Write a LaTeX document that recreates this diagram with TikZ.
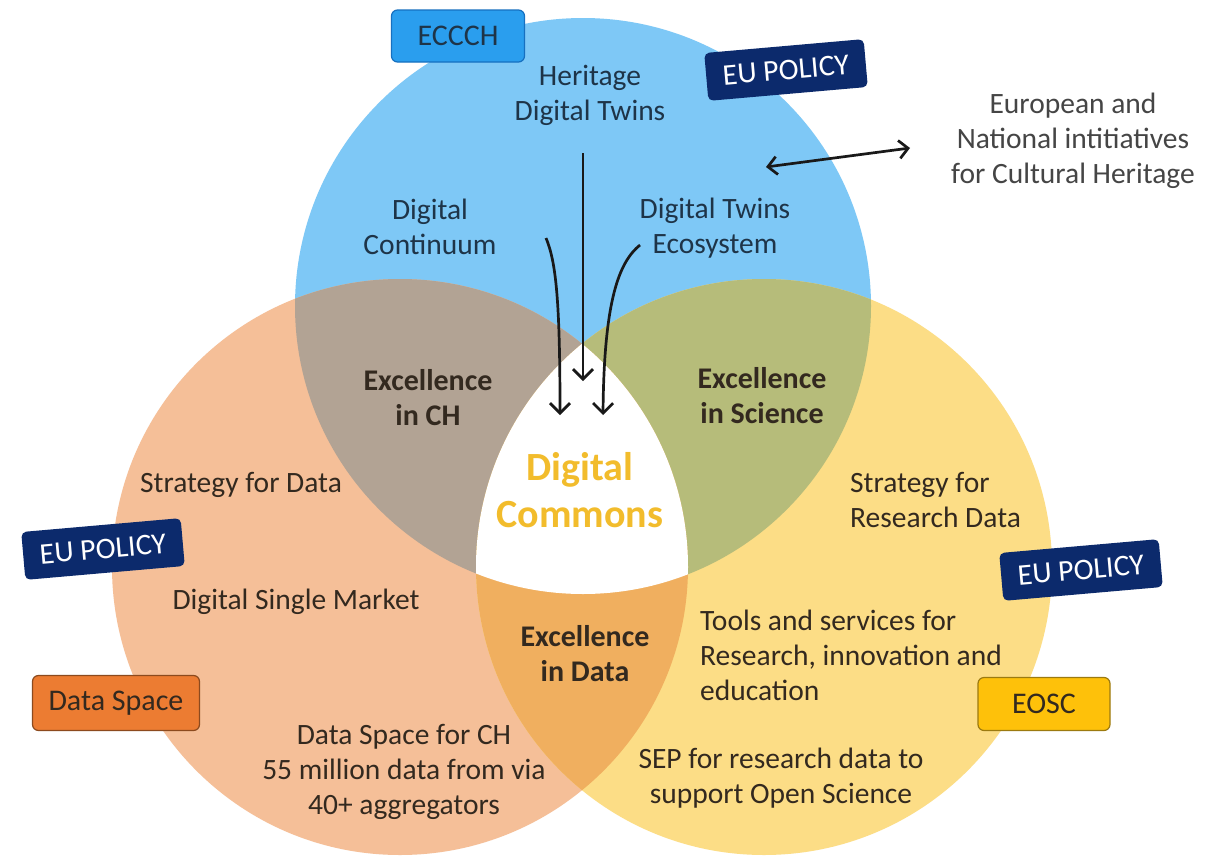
\documentclass[tikz,border=0pt]{standalone}
\usepackage{fontspec}
\setmainfont{Carlito}
\usetikzlibrary{arrows.meta}
\definecolor{cblue}{HTML}{7EC8F6}
\definecolor{cpeach}{HTML}{F5BF98}
\definecolor{cyellow}{HTML}{FCDD86}
\definecolor{cbrown}{HTML}{B2A394}
\definecolor{colive}{HTML}{B6BC7A}
\definecolor{corange}{HTML}{F0AF5F}
\definecolor{cgoldtext}{HTML}{F2BC2C}
\definecolor{ctext}{HTML}{33291F}
\definecolor{cbluetext}{HTML}{1E3448}
\definecolor{cgrey}{HTML}{454545}
\definecolor{cnavy}{HTML}{0C2A6C}
\definecolor{cbright}{HTML}{2A9EEE}
\definecolor{cbrightd}{HTML}{1670C0}
\definecolor{cdsbox}{HTML}{EC7C32}
\definecolor{cdsboxd}{HTML}{8C4A1E}
\definecolor{cgoldbox}{HTML}{FEC10A}
\definecolor{cgoldboxd}{HTML}{9C7A10}
\begin{document}
\begin{tikzpicture}[x=1pt,y=-1pt,
  txt/.style={font=\fontsize{29.5}{35}\selectfont, text=ctext, align=center, inner sep=0pt},
  btxt/.style={font=\fontsize{30}{35}\selectfont\bfseries, text=ctext, align=center, inner sep=0pt},
  common/.style={font=\fontsize{40}{47}\selectfont\bfseries, text=cgoldtext, align=center, inner sep=0pt},
  navybox/.style={fill=cnavy, text=white, rounded corners=5pt, minimum width=160pt, minimum height=48pt, font=\fontsize{30}{35}\selectfont, inner sep=0pt},
  tagbox/.style={rounded corners=6pt, line width=1.2pt, font=\fontsize{30}{35}\selectfont, text=ctext, inner sep=0pt},
  arr/.style={line width=2.7pt, draw=black!90, -{Straight Barb[length=10pt,width=20pt,line width=2.7pt]}},
  darr/.style={line width=2.7pt, draw=black!90, {Straight Barb[length=9pt,width=18pt,line width=2.7pt]}-{Straight Barb[length=9pt,width=18pt,line width=2.7pt]}}
]
\fill[white] (0,0) rectangle (1211,865);
\useasboundingbox (0,0) rectangle (1211,865);
\def\R{288pt}
\coordinate (B) at (583,306);
\coordinate (L) at (400,567);
\coordinate (Rc) at (764,567);
% circles
\fill[cblue] (B) circle[radius=\R];
\fill[cpeach] (L) circle[radius=\R];
\fill[cyellow] (Rc) circle[radius=\R];
\begin{scope}\clip (B) circle[radius=\R]; \fill[cbrown] (L) circle[radius=\R]; \end{scope}
\begin{scope}\clip (B) circle[radius=\R]; \fill[colive] (Rc) circle[radius=\R]; \end{scope}
\begin{scope}\clip (L) circle[radius=\R]; \fill[corange] (Rc) circle[radius=\R]; \end{scope}
\begin{scope}\clip (B) circle[radius=\R]; \clip (L) circle[radius=\R]; \fill[white] (Rc) circle[radius=\R]; \end{scope}

% texts in blue circle
\node[txt, text=cbluetext] (hdt) at (590,95) {Heritage\\Digital Twins};
\node[txt, text=cbluetext] (dc) at (430,227) {Digital\\Continuum};
\node[txt, text=cbluetext] (dte) at (715,228) {Digital Twins\\Ecosystem};

% overlap texts
\node[btxt] (ech) at (428,398) {Excellence\\in CH};
\node[btxt] (esc) at (762,396) {Excellence\\in Science};
\node[btxt] (eda) at (585,654) {Excellence\\in Data};
\node[common] (dcom) at (580,490) {Digital\\Commons};

% left circle
\node[txt] (sfd) at (241,485) {Strategy for Data};
\node[txt] (dsm) at (296,602) {Digital Single Market};
\node[txt] (dsch) at (404,772) {Data Space for CH\\55 million data from via\\40+ aggregators};

% right circle
\node[txt, align=left, anchor=west] (srd) at (850,500) {Strategy for\\Research Data};
\node[txt, align=left, anchor=west] (tools) at (700,655) {Tools and services for\\Research, innovation and\\education};
\node[txt] (sep) at (781,778) {SEP for research data to\\support Open Science};

% outside text
\node[txt, text=cgrey] (eni) at (1073,141) {European and\\National intitiatives\\for Cultural Heritage};

% tag boxes
\node[tagbox, fill=cbright, draw=cbrightd, minimum width=133pt, minimum height=52pt, text=cbluetext] (ecc) at (458,36) {ECCCH};
\node[tagbox, fill=cdsbox, draw=cdsboxd, minimum width=167pt, minimum height=55pt] (ds) at (116,703) {Data Space};
\node[tagbox, fill=cgoldbox, draw=cgoldboxd, minimum width=132pt, minimum height=53pt] (eosc) at (1044,704) {EOSC};
\node[navybox, rotate=5] (eu1) at (786,70) {EU POLICY};
\node[navybox, rotate=5] (eu2) at (103,549) {EU POLICY};
\node[navybox, rotate=5] (eu3) at (1081,570) {EU POLICY};

% arrows
\coordinate (a1s) at (583,153);
\coordinate (a1e) at (583,381);
\coordinate (a2s) at (546,238);
\coordinate (a2e) at (560,415);
\coordinate (a3s) at (640,245);
\coordinate (a3e) at (603,415);
\coordinate (d1) at (766,167);
\coordinate (d2) at (910,148);
\draw[arr] (a1s) -- (a1e);
\draw[arr] (a2s) .. controls (556,262) and (560,300) .. (a2e);
\draw[arr] (a3s) .. controls (619,262) and (604,300) .. (a3e);
\draw[darr] (d1) -- (d2);
\end{tikzpicture}
\end{document}
